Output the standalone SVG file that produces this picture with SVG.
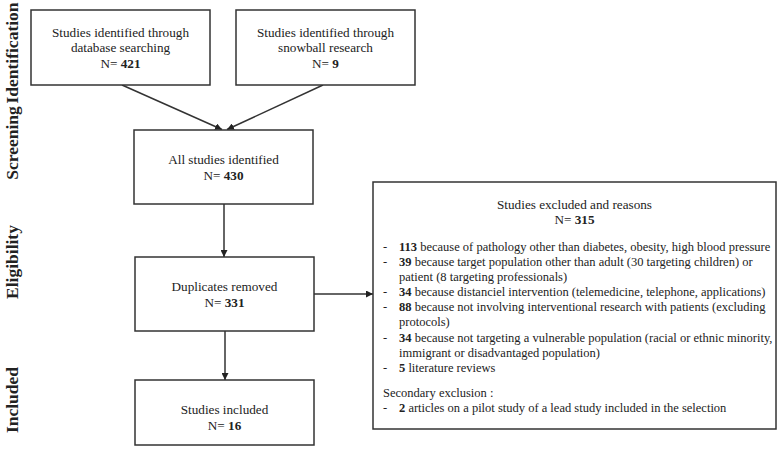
<svg xmlns="http://www.w3.org/2000/svg" width="778" height="455" viewBox="0 0 778 455">
<defs>
<style>
.box{fill:#fff;stroke:#333;stroke-width:1.5}
.t{font-family:"Liberation Serif","Times New Roman",serif;font-size:13.2px;fill:#222;text-anchor:middle}
.l{font-family:"Liberation Serif","Times New Roman",serif;font-size:12.5px;fill:#222}
.b{font-weight:bold}
.side{font-family:"Liberation Serif","Times New Roman",serif;font-size:17.5px;font-weight:bold;fill:#222;text-anchor:middle}
.c{stroke:#333;stroke-width:1.5;fill:none;marker-end:url(#ah)}
</style>
<marker id="ah" viewBox="0 0 10 10" refX="10" refY="5" markerWidth="7" markerHeight="7" markerUnits="userSpaceOnUse" orient="auto">
<path d="M0,0 L10,5 L0,10 z" fill="#222"/>
</marker>
</defs>
<rect width="778" height="455" fill="#fff"/>
<g id="stages">
<text class="side" transform="translate(18,53) rotate(-90)">Identification</text>
<text class="side" transform="translate(18,143) rotate(-90)">Screening</text>
<text class="side" transform="translate(18,262) rotate(-90)">Eligibility</text>
<text class="side" transform="translate(18,400) rotate(-90)">Included</text>
</g>
<g id="connectors">
<line class="c" x1="122" y1="85" x2="222" y2="129.5"/>
<line class="c" x1="323" y1="85" x2="227" y2="129.5"/>
<line class="c" x1="224" y1="204" x2="224" y2="257"/>
<line class="c" x1="225" y1="331" x2="225" y2="380"/>
<line class="c" x1="314" y1="294" x2="373" y2="294"/>
</g>
<g id="n1">
<rect class="box" x="31" y="10" width="179" height="75"/>
<text class="t" x="120.5" y="37">Studies identified through</text>
<text class="t" x="120.5" y="52">database searching</text>
<text class="t" x="120.5" y="68">N= <tspan class="b">421</tspan></text>
</g>
<g id="n2">
<rect class="box" x="236" y="10" width="179" height="75"/>
<text class="t" x="325.5" y="37">Studies identified through</text>
<text class="t" x="325.5" y="52">snowball research</text>
<text class="t" x="325.5" y="68">N= <tspan class="b">9</tspan></text>
</g>
<g id="n3">
<rect class="box" x="134" y="130" width="179" height="74"/>
<text class="t" x="223.5" y="164">All studies identified</text>
<text class="t" x="223.5" y="180">N= <tspan class="b">430</tspan></text>
</g>
<g id="n4">
<rect class="box" x="135" y="257" width="179" height="74"/>
<text class="t" x="224.5" y="291">Duplicates removed</text>
<text class="t" x="224.5" y="307">N= <tspan class="b">331</tspan></text>
</g>
<g id="n5">
<rect class="box" x="135" y="380" width="179" height="65"/>
<text class="t" x="224.5" y="414">Studies included</text>
<text class="t" x="224.5" y="430">N= <tspan class="b">16</tspan></text>
</g>
<g id="n6">
<rect class="box" x="373" y="182" width="403" height="247"/>
<text class="t" x="574.5" y="209">Studies excluded and reasons</text>
<text class="t" x="574.5" y="224">N= <tspan class="b">315</tspan></text>
<g class="l">
<text x="383" y="251">-</text><text x="399" y="251"><tspan class="b">113</tspan> because of pathology other than diabetes, obesity, high blood pressure</text>
<text x="383" y="266">-</text><text x="399" y="266"><tspan class="b">39</tspan> because target population other than adult (30 targeting children) or</text>
<text x="399" y="281">patient (8 targeting professionals)</text>
<text x="383" y="296">-</text><text x="399" y="296"><tspan class="b">34</tspan> because distanciel intervention (telemedicine, telephone, applications)</text>
<text x="383" y="311">-</text><text x="399" y="311"><tspan class="b">88</tspan> because not involving interventional research with patients (excluding</text>
<text x="399" y="326">protocols)</text>
<text x="383" y="342">-</text><text x="399" y="342"><tspan class="b">34</tspan> because not targeting a vulnerable population (racial or ethnic minority,</text>
<text x="399" y="357">immigrant or disadvantaged population)</text>
<text x="383" y="372">-</text><text x="399" y="372"><tspan class="b">5</tspan> literature reviews</text>
<text x="383" y="397">Secondary exclusion :</text>
<text x="383" y="412">-</text><text x="399" y="412"><tspan class="b">2</tspan> articles on a pilot study of a lead study included in the selection</text>
</g>
</g>
</svg>
